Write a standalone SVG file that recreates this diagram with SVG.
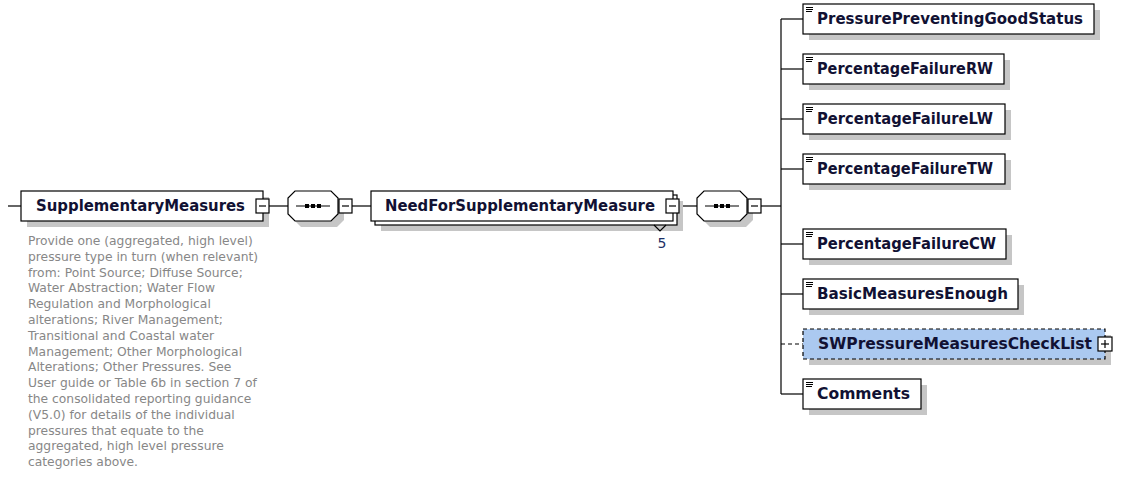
<svg xmlns="http://www.w3.org/2000/svg" width="1125" height="481" viewBox="0 0 1125 481">
  <style>
    .box { fill: #ffffff; stroke: #000000; stroke-width: 1.2; }
    .opt { fill: #abc9f0; stroke: #000000; stroke-width: 1.2; stroke-dasharray: 4 3; }
    .shadow { fill: #c6c6c6; }
    .wire { fill: none; stroke: #000000; stroke-width: 1.2; }
    .thin { fill: none; stroke: #000000; stroke-width: 1; }
    .dash { fill: none; stroke: #000000; stroke-width: 1.2; stroke-dasharray: 4 3; }
    .name { font-family: "DejaVu Sans", "Liberation Sans", sans-serif; font-weight: bold; font-size: 15px; fill: #111133; }
    .card { font-family: "DejaVu Sans", "Liberation Sans", sans-serif; font-size: 14px; fill: #1d2f66; }
    .doc { font-family: "DejaVu Sans", "Liberation Sans", sans-serif; font-size: 12.3px; fill: #878787; }
  </style>
  <defs>
    <!-- collapse button -->
    <g id="minus">
      <rect x="0" y="0" width="13" height="14" class="box"/>
      <line x1="3" y1="7" x2="10" y2="7" class="wire"/>
    </g>
    <!-- expand button -->
    <g id="plus">
      <rect x="0" y="0" width="14" height="14" class="box"/>
      <line x1="3" y1="7" x2="11" y2="7" class="wire"/>
      <line x1="7" y1="3" x2="7" y2="11" class="wire"/>
    </g>
    <!-- simple-type element marker -->
    <g id="elemIcon">
      <line x1="3" y1="3.5" x2="10" y2="3.5" class="thin"/>
      <line x1="3" y1="5.5" x2="10" y2="5.5" class="thin"/>
      <line x1="3" y1="7.5" x2="9" y2="7.5" class="thin"/>
    </g>
    <!-- sequence compositor -->
    <g id="sequence">
      <polygon points="13,6 49,6 56,13 56,29 49,36 13,36 6,29 6,13" class="shadow"/>
      <polygon points="7,0 43,0 50,7 50,23 43,30 7,30 0,23 0,7" class="box"/>
      <line x1="8" y1="15" x2="42" y2="15" class="wire"/>
      <rect x="17" y="13" width="4" height="4" fill="#000"/>
      <rect x="23" y="13" width="4" height="4" fill="#000"/>
      <rect x="29" y="13" width="4" height="4" fill="#000"/>
    </g>
  </defs>

  <!-- connectors -->
  <g id="connectors">
    <line x1="8" y1="206" x2="21" y2="206" class="wire"/>
    <line x1="269" y1="206" x2="288" y2="206" class="wire"/>
    <line x1="352" y1="206" x2="371" y2="206" class="wire"/>
    <line x1="679" y1="206" x2="697" y2="206" class="wire"/>
    <line x1="761" y1="206" x2="781" y2="206" class="wire"/>
    <line x1="781" y1="19" x2="781" y2="394" class="wire"/>
    <line x1="781" y1="19" x2="803" y2="19" class="wire"/>
    <line x1="781" y1="69" x2="803" y2="69" class="wire"/>
    <line x1="781" y1="119" x2="803" y2="119" class="wire"/>
    <line x1="781" y1="169" x2="803" y2="169" class="wire"/>
    <line x1="781" y1="244" x2="803" y2="244" class="wire"/>
    <line x1="781" y1="294" x2="803" y2="294" class="wire"/>
    <line x1="781" y1="344" x2="803" y2="344" class="dash"/>
    <line x1="781" y1="394" x2="803" y2="394" class="wire"/>
  </g>

  <!-- root element -->
  <g id="SupplementaryMeasures">
    <rect x="27" y="197" width="242" height="30" class="shadow"/>
    <rect x="21" y="191" width="242" height="30" class="box"/>
    <text x="36" y="211" class="name" textLength="209" lengthAdjust="spacingAndGlyphs">SupplementaryMeasures</text>
    <use href="#minus" x="256" y="199"/>
    <g class="doc">
      <text x="28" y="245">Provide one (aggregated, high level)</text>
      <text x="28" y="260.8">pressure type in turn (when relevant)</text>
      <text x="28" y="276.6">from: Point Source; Diffuse Source;</text>
      <text x="28" y="292.4">Water Abstraction; Water Flow</text>
      <text x="28" y="308.2">Regulation and Morphological</text>
      <text x="28" y="324">alterations; River Management;</text>
      <text x="28" y="339.8">Transitional and Coastal water</text>
      <text x="28" y="355.6">Management; Other Morphological</text>
      <text x="28" y="371.4">Alterations; Other Pressures. See</text>
      <text x="28" y="387.2">User guide or Table 6b in section 7 of</text>
      <text x="28" y="403">the consolidated reporting guidance</text>
      <text x="28" y="418.8">(V5.0) for details of the individual</text>
      <text x="28" y="434.6">pressures that equate to the</text>
      <text x="28" y="450.4">aggregated, high level pressure</text>
      <text x="28" y="466.2">categories above.</text>
    </g>
  </g>

  <g id="sequence1">
    <use href="#sequence" x="288" y="191"/>
    <use href="#minus" x="339" y="199"/>
  </g>

  <!-- repeating element (max 5) -->
  <g id="NeedForSupplementaryMeasure">
    <rect x="381" y="201" width="302" height="30" class="shadow"/>
    <rect x="375" y="195" width="302" height="30" class="box"/>
    <rect x="371" y="191" width="302" height="30" class="box"/>
    <text x="385" y="211" class="name" textLength="270" lengthAdjust="spacingAndGlyphs">NeedForSupplementaryMeasure</text>
    <use href="#minus" x="666" y="199"/>
    <polyline points="654,225 660,231 666,225" class="wire"/>
    <text x="662" y="248" class="card" text-anchor="middle">5</text>
  </g>

  <g id="sequence2">
    <use href="#sequence" x="697" y="191"/>
    <use href="#minus" x="748" y="199"/>
  </g>

  <!-- child elements -->
  <g id="PressurePreventingGoodStatus">
    <rect x="809" y="10" width="291" height="30" class="shadow"/>
    <rect x="803" y="4" width="291" height="30" class="box"/>
    <use href="#elemIcon" x="803" y="4"/>
    <text x="817" y="24" class="name" textLength="266" lengthAdjust="spacingAndGlyphs">PressurePreventingGoodStatus</text>
  </g>
  <g id="PercentageFailureRW">
    <rect x="809" y="60" width="201" height="30" class="shadow"/>
    <rect x="803" y="54" width="201" height="30" class="box"/>
    <use href="#elemIcon" x="803" y="54"/>
    <text x="817" y="74" class="name" textLength="176" lengthAdjust="spacingAndGlyphs">PercentageFailureRW</text>
  </g>
  <g id="PercentageFailureLW">
    <rect x="809" y="110" width="202" height="30" class="shadow"/>
    <rect x="803" y="104" width="202" height="30" class="box"/>
    <use href="#elemIcon" x="803" y="104"/>
    <text x="817" y="124" class="name" textLength="176" lengthAdjust="spacingAndGlyphs">PercentageFailureLW</text>
  </g>
  <g id="PercentageFailureTW">
    <rect x="809" y="160" width="202" height="30" class="shadow"/>
    <rect x="803" y="154" width="202" height="30" class="box"/>
    <use href="#elemIcon" x="803" y="154"/>
    <text x="817" y="174" class="name" textLength="176" lengthAdjust="spacingAndGlyphs">PercentageFailureTW</text>
  </g>
  <g id="PercentageFailureCW">
    <rect x="809" y="235" width="203" height="30" class="shadow"/>
    <rect x="803" y="229" width="203" height="30" class="box"/>
    <use href="#elemIcon" x="803" y="229"/>
    <text x="817" y="249" class="name" textLength="179" lengthAdjust="spacingAndGlyphs">PercentageFailureCW</text>
  </g>
  <g id="BasicMeasuresEnough">
    <rect x="809" y="285" width="215" height="30" class="shadow"/>
    <rect x="803" y="279" width="215" height="30" class="box"/>
    <use href="#elemIcon" x="803" y="279"/>
    <text x="817" y="299" class="name" textLength="191" lengthAdjust="spacingAndGlyphs">BasicMeasuresEnough</text>
  </g>
  <g id="SWPressureMeasuresCheckList">
    <rect x="809" y="335" width="302" height="30" class="shadow"/>
    <rect x="803" y="329" width="302" height="30" class="opt"/>
    <text x="818" y="349" class="name" textLength="274" lengthAdjust="spacingAndGlyphs">SWPressureMeasuresCheckList</text>
    <use href="#plus" x="1098" y="337"/>
  </g>
  <g id="Comments">
    <rect x="809" y="385" width="118" height="30" class="shadow"/>
    <rect x="803" y="379" width="118" height="30" class="box"/>
    <use href="#elemIcon" x="803" y="379"/>
    <text x="817" y="399" class="name" textLength="93" lengthAdjust="spacingAndGlyphs">Comments</text>
  </g>
</svg>
